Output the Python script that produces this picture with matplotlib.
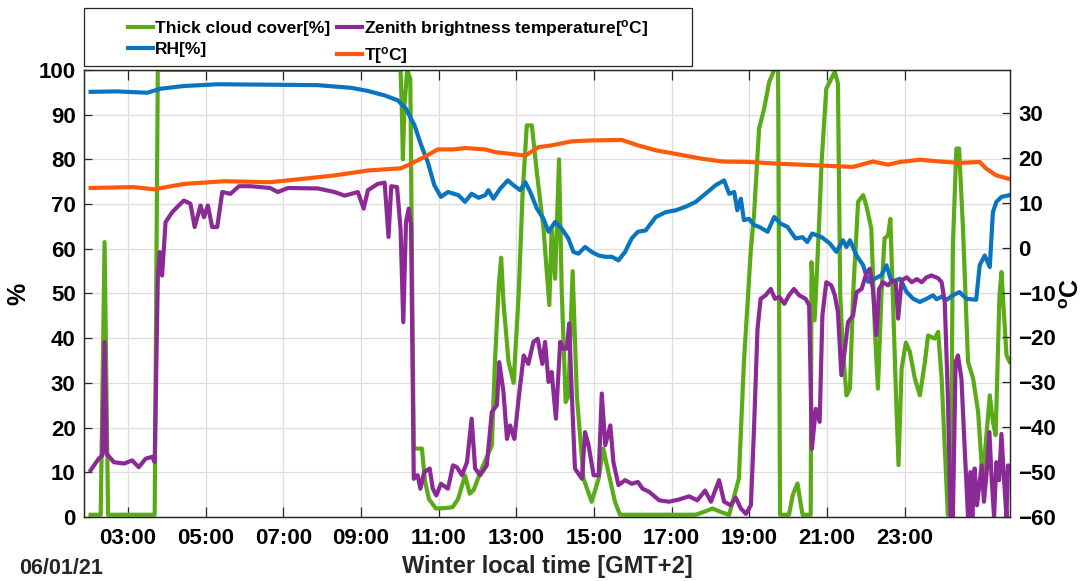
import matplotlib.pyplot as plt
import numpy as np
from matplotlib.patches import Rectangle
from matplotlib.ticker import FixedLocator, FuncFormatter

# -----------------------------------------------------------------------------
#         Data (hours since 00:00 on 06/01/21; > 24 is the next morning)
# -----------------------------------------------------------------------------
cloud_t = [2.04, 2.30, 2.40, 2.49, 3.69, 3.77, 10.02, 10.05, 10.08, 10.12,
           10.19, 10.27, 10.36, 10.57, 10.65, 10.75, 10.93, 11.20, 11.36,
           11.50, 11.68, 11.80, 11.90, 12.11, 12.37, 12.45, 12.55, 12.61,
           12.67, 12.80, 12.93, 13.06, 13.16, 13.27, 13.40, 13.53, 13.70,
           13.85, 13.91, 14.00, 14.10, 14.17, 14.27, 14.34, 14.45, 14.56,
           14.73, 14.94, 15.12, 15.24, 15.37, 15.54, 15.67, 17.62, 17.85,
           18.05, 18.30, 18.48, 18.73, 18.86, 19.04, 19.12, 19.25, 19.38,
           19.51, 19.64, 19.74, 19.79, 20.02, 20.12, 20.24, 20.32, 20.37,
           20.58, 20.60, 20.68, 20.79, 20.86, 20.98, 21.20, 21.28, 21.34,
           21.40, 21.50, 21.59, 21.67, 21.80, 21.93, 22.01, 22.14, 22.23,
           22.31, 22.40, 22.48, 22.57, 22.63, 22.68, 22.77, 22.84, 22.92,
           23.03, 23.13, 23.26, 23.39, 23.52, 23.60, 23.77, 23.86, 23.95,
           24.03, 24.11, 24.18, 24.24, 24.33, 24.40, 24.50, 24.63, 24.76,
           24.89, 25.01, 25.08, 25.19, 25.27, 25.34, 25.44, 25.49, 25.62,
           25.70]
cloud_v = [0.5, 0.5, 61.5, 0.5, 0.5, 100, 100, 92, 80, 92,
           100, 98, 15.3, 15.3, 8, 4, 1.9, 2.0, 2.2,
           4, 9.3, 5.2, 6, 10.8, 16, 34.7, 52, 58,
           48, 34.7, 30, 49.6, 72, 87.6, 87.6, 77, 64.5,
           47.4, 64.5, 53.3, 80, 50.3, 25.7, 27, 55, 27,
           8.6, 3.4, 8.6, 15.3, 10, 3.4, 0.5, 0.5, 1.2,
           1.9, 1.0, 0.5, 8.6, 34.7, 60, 67.5, 86.9, 91.3,
           97.3, 100, 100, 0.5, 0.5, 5, 7.5, 3, 0.5,
           0.5, 57, 44, 64.5, 79.4, 95.8, 99.6, 97, 49.6,
           38.4, 27.2, 28.7, 49.6, 70.5, 72, 69.7, 64.5, 42,
           28.7, 49.6, 62.3, 63, 66.7, 53.3, 28.7, 11.6, 33.2,
           39, 37, 31, 27.2, 34.7, 40.6, 39.9, 41.4, 31,
           16, 0.5, 0.5, 60.8, 82.4, 82.4, 64.5, 34.7, 31,
           23.5, 7.8, 16, 27.2, 21.3, 18.3, 49.6, 54.8, 36.2,
           34.7]

rh_t = [2.04, 2.72, 3.50, 3.84, 4.44, 5.30, 6.66, 7.89, 8.75, 9.18,
        9.61, 9.95, 10.16, 10.38, 10.55, 10.72, 10.89, 11.06, 11.24, 11.39,
        11.51, 11.68, 11.85, 12.03, 12.20, 12.28, 12.41, 12.58, 12.78, 12.93,
        13.10, 13.23, 13.36, 13.53, 13.70, 13.83, 14.00, 14.17, 14.34, 14.47,
        14.60, 14.77, 14.94, 15.12, 15.29, 15.46, 15.63, 15.80, 15.97, 16.13,
        16.33, 16.59, 16.85, 17.10, 17.36, 17.62, 17.87, 18.13, 18.35, 18.48,
        18.61, 18.69, 18.78, 18.86, 18.99, 19.12, 19.25, 19.47, 19.64, 19.81,
        19.98, 20.19, 20.37, 20.49, 20.62, 20.86, 21.07, 21.24, 21.41, 21.50,
        21.59, 21.76, 21.93, 22.06, 22.23, 22.40, 22.53, 22.66, 22.88, 23.05,
        23.22, 23.39, 23.56, 23.73, 23.82, 23.95, 24.08, 24.24, 24.41, 24.59,
        24.84, 24.93, 25.06, 25.19, 25.27, 25.36, 25.49, 25.70]
rh_v = [95.1, 95.2, 94.9, 95.8, 96.4, 96.8, 96.7, 96.6, 96.0, 95.3,
        94.3, 93.2, 91.3, 87.6, 83.2, 79.4, 74.2, 71.6, 72.7, 72.3,
        72.0, 70.5, 72.3, 71.4, 72.0, 73.1, 71.2, 73.4, 75.3, 74.2,
        73.1, 74.9, 72.7, 69.0, 66.7, 63.8, 66.0, 64.5, 62.3, 59.3,
        58.9, 60.4, 59.3, 58.5, 58.2, 58.2, 57.4, 59.3, 62.3, 63.8,
        64.1, 67.1, 68.2, 68.6, 69.4, 70.5, 72.3, 74.2, 75.3, 72.3,
        72.7, 68.6, 71.2, 66.4, 66.7, 65.3, 64.9, 63.8, 67.1, 65.6,
        64.9, 62.3, 62.6, 61.5, 63.4, 62.6, 61.2, 59.3, 61.9, 60.4,
        61.9, 58.5, 56.3, 52.6, 53.3, 54.1, 56.3, 52.6, 53.3, 50.3,
        48.8, 48.1, 48.8, 49.6, 48.7, 49.3, 48.6, 49.6, 50.3, 48.8,
        48.6, 56.3, 58.5, 55.9, 68.2, 70.5, 71.6, 72.0]

temp_t = [2.04, 3.15, 3.67, 4.44, 5.47, 6.66, 7.46, 8.32, 9.18, 10.03,
          10.29, 10.63, 10.98, 11.39, 11.68, 12.20, 12.45, 13.06, 13.23,
          13.57, 13.91, 14.43, 14.94, 15.72, 16.13, 16.59, 17.10, 17.79,
          18.31, 18.99, 19.77, 20.86, 21.67, 22.18, 22.57, 22.88, 23.39,
          23.90, 24.41, 24.93, 25.10, 25.36, 25.70]
temp_v = [13.3, 13.5, 13.0, 14.2, 14.8, 14.6, 15.3, 16.1, 17.2, 17.7,
          18.7, 20.2, 21.9, 21.9, 22.2, 21.9, 21.3, 20.7, 20.5,
          22.4, 22.8, 23.7, 23.9, 24.0, 22.8, 21.7, 20.9, 19.8,
          19.2, 19.1, 18.7, 18.3, 18.0, 19.2, 18.5, 19.1, 19.6,
          19.2, 18.9, 19.1, 17.6, 16.1, 15.3]

zenith_t = [2.04, 2.25, 2.34, 2.40, 2.45, 2.64, 2.90, 3.11, 3.28, 3.46,
            3.63, 3.69, 3.77, 3.82, 3.88, 3.97, 4.14, 4.31, 4.44, 4.61,
            4.72, 4.87, 4.96, 5.06, 5.17, 5.30, 5.43, 5.64, 5.86, 6.16,
            6.66, 6.86, 7.12, 7.89, 8.32, 8.58, 8.92, 9.07, 9.18, 9.43,
            9.61, 9.71, 9.78, 9.93, 10.02, 10.09, 10.16, 10.23, 10.29, 10.36,
            10.46, 10.53, 10.63, 10.77, 10.85, 10.94, 11.06, 11.24, 11.37,
            11.47, 11.60, 11.73, 11.85, 11.94, 12.07, 12.24, 12.37, 12.50,
            12.56, 12.67, 12.76, 12.84, 12.95, 13.06, 13.19, 13.31, 13.44,
            13.55, 13.67, 13.74, 13.83, 13.91, 14.02, 14.13, 14.22, 14.30,
            14.36, 14.43, 14.51, 14.69, 14.77, 14.86, 14.99, 15.12, 15.20,
            15.29, 15.42, 15.50, 15.63, 15.80, 15.97, 16.13, 16.25, 16.42,
            16.68, 16.93, 17.19, 17.45, 17.66, 17.86, 18.01, 18.22, 18.35,
            18.52, 18.65, 18.78, 18.91, 19.04, 19.12, 19.21, 19.29, 19.42,
            19.55, 19.66, 19.77, 19.90, 20.02, 20.15, 20.28, 20.45, 20.54,
            20.61, 20.71, 20.81, 20.88, 20.98, 21.11, 21.20, 21.28, 21.37,
            21.45, 21.54, 21.67, 21.76, 21.89, 22.01, 22.10, 22.18, 22.27,
            22.34, 22.44, 22.57, 22.68, 22.77, 22.83, 22.92, 23.05, 23.18,
            23.31, 23.44, 23.56, 23.69, 23.86, 23.95, 24.03, 24.11, 24.18,
            24.24, 24.31, 24.37, 24.46, 24.54, 24.63, 24.69, 24.74, 24.80,
            24.86, 24.98, 25.04, 25.11, 25.18, 25.24, 25.30, 25.36, 25.43,
            25.49, 25.55, 25.62, 25.66, 25.70]
zenith_v = [-49.6, -47.0, -46.3, -21.0, -45.9, -47.8, -48.1, -47.4, -48.9, -47.0,
            -46.6, -47.8, -6.9, -1.0, -6.2, 5.7, 7.9, 9.4, 10.5, 9.8,
            4.6, 9.4, 6.8, 9.4, 4.6, 4.6, 12.4, 12.0, 13.7, 13.7,
            13.3, 12.4, 13.3, 13.2, 12.4, 11.6, 12.4, 8.7, 12.8, 14.2,
            14.5, 2.4, 13.7, 13.5, 4.2, -16.6, 5.7, 8.7, 5.0, -51.5,
            -50.7, -53.7, -50.0, -49.2, -53.7, -55.2, -52.6, -53.7, -48.5,
            -48.9, -50.7, -47.8, -38.1, -49.2, -50.7, -48.5, -36.6, -35.1,
            -25.5, -32.2, -42.6, -39.6, -42.6, -33.7, -24.0, -25.9, -21.0,
            -20.3, -25.9, -21.0, -29.9, -27.7, -38.1, -21.0, -22.5, -22.5,
            -16.9, -32.9, -49.2, -51.5, -41.1, -44.0, -50.7, -50.7, -32.5,
            -44.0, -39.6, -47.8, -52.9, -51.8, -52.6, -52.2, -53.7, -54.4,
            -56.3, -56.6, -56.1, -55.4, -56.3, -54.1, -56.6, -51.8, -56.6,
            -57.4, -55.7, -58.1, -59.3, -57.4, -40.3, -18.1, -11.4, -10.6,
            -9.2, -11.4, -11.0, -12.5, -10.6, -9.2, -10.6, -11.4, -12.9,
            -44.8, -35.9, -38.8, -15.1, -7.7, -8.4, -10.6, -14.3, -28.4,
            -23.3, -16.6, -15.1, -9.9, -9.2, -5.8, -4.7, -9.2, -19.5,
            -9.2, -7.7, -8.4, -7.3, -7.7, -15.8, -7.3, -6.6, -7.7,
            -7.0, -7.7, -6.6, -6.2, -6.8, -7.7, -12.1, -32.9, -60.0,
            -60.0, -25.5, -24.0, -29.2, -44.0, -60.0, -50.0, -60.0, -49.2,
            -57.4, -48.5, -56.6, -50.0, -41.1, -51.8, -60.0, -47.8, -51.8,
            -41.5, -50.7, -60.0, -48.5, -48.9]

hour_ticks = [3, 5, 7, 9, 11, 13, 15, 17, 19, 21, 23]
pct_ticks = np.arange(0, 101, 10)
degc_ticks = np.arange(-60, 31, 10)

# -----------------------------------------------------------------------------
#         Plot
# -----------------------------------------------------------------------------
plt.rcParams['font.family'] = ['Liberation Sans', 'DejaVu Sans']
plt.rcParams['font.weight'] = 'bold'
plt.rcParams['axes.labelweight'] = 'bold'
plt.rcParams['mathtext.fontset'] = 'custom'
plt.rcParams['mathtext.rm'] = 'Liberation Sans:bold'
plt.rcParams['mathtext.it'] = 'Liberation Sans:bold'
plt.rcParams['mathtext.default'] = 'regular'

c_green = '#5aab17'
c_blue = '#0a74be'
c_orange = '#ff5a0a'
c_purple = '#8b2a96'
c_axis = '#262626'
lw = 3.0

fig = plt.figure(figsize=(10.88, 5.81), dpi=100)
ax = fig.add_axes([0.0772, 0.1102, 0.8511, 0.7694])
ax2 = ax.twinx()

l_cloud, = ax.plot(cloud_t, cloud_v, color=c_green, lw=lw,
                   solid_joinstyle='round', label='Thick cloud cover[%]')
l_rh, = ax.plot(rh_t, rh_v, color=c_blue, lw=lw,
                solid_joinstyle='round', label='RH[%]')
l_zen, = ax2.plot(zenith_t, zenith_v, color=c_purple, lw=lw,
                  solid_joinstyle='round',
                  label='Zenith brightness temperature[$^{o}$C]')
l_temp, = ax2.plot(temp_t, temp_v, color=c_orange, lw=lw,
                   solid_joinstyle='round', label='T[$^{o}$C]')

ax.set_xlim(1.87, 25.71)
ax.set_ylim(0, 100)
ax2.set_ylim(-60, 39.6)

ax.xaxis.set_major_locator(FixedLocator(hour_ticks))
ax.xaxis.set_major_formatter(FuncFormatter(lambda h, _: f"{int(h) % 24:02d}:00"))
ax.set_yticks(pct_ticks)
ax2.set_yticks(degc_ticks)

ax.grid(True, color='#dedede', lw=0.9)
ax.set_axisbelow(True)

for a in (ax, ax2):
    for s in a.spines.values():
        s.set_color(c_axis)
        s.set_linewidth(0.9)
ax.tick_params(axis='x', direction='in', length=7, width=0.9, top=True,
               colors=c_axis, labelsize=16, pad=8)
ax.tick_params(axis='y', direction='in', length=6, width=0.9,
               colors=c_axis, labelsize=16, pad=6)
ax2.tick_params(axis='y', direction='in', length=6, width=0.9,
                colors=c_axis, labelsize=16, pad=6)
for lab in ax.get_xticklabels() + ax.get_yticklabels() + ax2.get_yticklabels():
    lab.set_color('black')

ax.set_xlabel('Winter local time [GMT+2]', fontsize=17, labelpad=4,
              color=c_axis)
ax.set_ylabel('%', fontsize=18, labelpad=6, color='black')
ax2.set_ylabel('$^{o}$C', fontsize=18, labelpad=3, color='black')

fig.text(103 / 1088, 0.022, '06/01/21', ha='right', va='center',
         fontsize=15.5, color=c_axis)

# legend box sits above the axes
box_x0, box_y0 = 84 / 1088, 1 - 66 / 581
box_w, box_h = (692 - 84) / 1088, 58 / 581
fig.patches.append(Rectangle((box_x0, box_y0), box_w, box_h,
                             transform=fig.transFigure, fill=True,
                             facecolor='white', edgecolor=c_axis, lw=0.9))
fig.legend(handles=[l_cloud, l_rh, l_zen, l_temp], ncol=2, frameon=False,
           loc='center',
           bbox_to_anchor=(box_x0 + box_w / 2, box_y0 + box_h / 2 - 5 / 581),
           fontsize=12.5, handlelength=1.45, handletextpad=0.12,
           columnspacing=0.4, labelspacing=0.35, borderpad=0)

fig.savefig('out.png', dpi=100)
